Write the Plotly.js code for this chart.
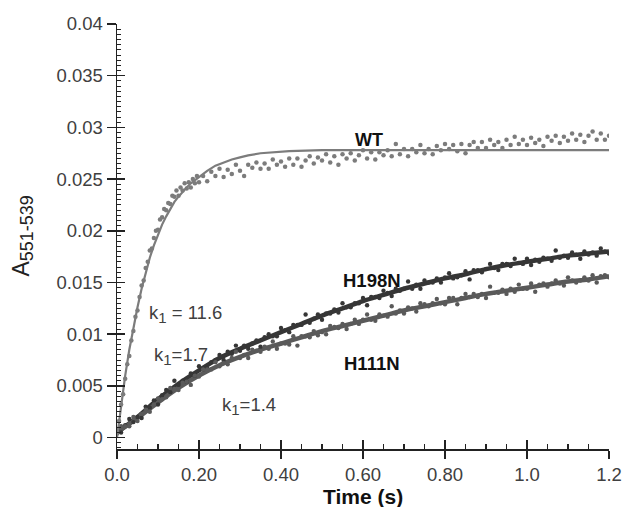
<!DOCTYPE html>
<html>
<head>
<meta charset="utf-8">
<script src="https://cdn.plot.ly/plotly-3.0.1.min.js"></script>
<style>html,body{margin:0;padding:0;background:#fff;}#chart{width:622px;height:507px;}</style>
</head>
<body>
<div id="chart"></div>
<script>
// ---------- data ----------
const time = [0,0.01,0.02,0.03,0.04,0.05,0.06,0.07,0.08,0.09,
  0.10,0.11,0.12,0.13,0.14,0.15,0.16,0.17,0.18,0.19,
  0.20,0.21,0.22,0.23,0.24,0.25,0.26,0.27,0.28,0.29,
  0.30,0.31,0.32,0.33,0.34,0.35,0.36,0.37,0.38,0.39,
  0.40,0.41,0.42,0.43,0.44,0.45,0.46,0.47,0.48,0.49,
  0.50,0.51,0.52,0.53,0.54,0.55,0.56,0.57,0.58,0.59,
  0.60,0.61,0.62,0.63,0.64,0.65,0.66,0.67,0.68,0.69,
  0.70,0.71,0.72,0.73,0.74,0.75,0.76,0.77,0.78,0.79,
  0.80,0.81,0.82,0.83,0.84,0.85,0.86,0.87,0.88,0.89,
  0.90,0.91,0.92,0.93,0.94,0.95,0.96,0.97,0.98,0.99,
  1.00,1.01,1.02,1.03,1.04,1.05,1.06,1.07,1.08,1.09,
  1.10,1.11,1.12,1.13,1.14,1.15,1.16,1.17,1.18,1.19,1.20];

const timeEarly = [0,0.005,0.01,0.015,0.02,0.025,0.03,0.035,0.04,0.045,
  0.05,0.055,0.06,0.065,0.07,0.075,0.08,0.085,0.09,0.095,
  0.10,0.105,0.11,0.115,0.12,0.125,0.13,0.135,0.14,0.145,
  0.15,0.155,0.16,0.165,0.17,0.175,0.18,0.185,0.19,0.195,0.20];

const timeWT = timeEarly.concat(time.slice(21));

const wtData = [0.0006,0.0016,0.0032,0.0042,0.0057,0.0071,0.0079,0.0094,0.0103,0.0117,
  0.0123,0.0136,0.0147,0.0152,0.0164,0.0170,0.0181,0.0183,0.0193,0.0200,
  0.0201,0.0211,0.0213,0.0221,0.0220,0.0227,0.0226,0.0234,0.0233,0.0239,
  0.0234,0.0242,0.0239,0.0246,0.0241,0.0247,0.0242,0.0250,0.0246,0.0253,0.0247,
  0.0253,0.0248,0.0257,0.0253,0.0260,0.0252,0.0259,0.0255,0.0264,0.0258,
  0.0253,0.0264,0.0261,0.0266,0.0260,0.0265,0.0260,0.0269,0.0264,0.0267,
  0.0262,0.0270,0.0264,0.0270,0.0262,0.0268,0.0272,0.0265,0.0271,0.0268,
  0.0274,0.0266,0.0272,0.0264,0.0274,0.0270,0.0275,0.0268,0.0273,0.0278,
  0.0270,0.0276,0.0269,0.0276,0.0273,0.0278,0.0272,0.0284,0.0274,0.0279,
  0.0272,0.0279,0.0276,0.0283,0.0275,0.0279,0.0274,0.0282,0.0278,0.0284,
  0.0279,0.0283,0.0277,0.0284,0.0275,0.0283,0.0286,0.0280,0.0286,0.0280,
  0.0288,0.0283,0.0286,0.0280,0.0288,0.0283,0.0291,0.0284,0.0288,0.0283,
  0.0290,0.0285,0.0288,0.0282,0.0291,0.0287,0.0292,0.0285,0.0291,0.0287,
  0.0294,0.0288,0.0293,0.0286,0.0292,0.0296,0.0288,0.0294,0.0288,0.0292];

const h198nData = [0.0007,0.0005,0.0012,0.0018,0.0015,0.0020,0.0019,0.0030,0.0029,0.0036,
  0.0032,0.0041,0.0046,0.0044,0.0055,0.0051,0.0055,0.0054,0.0062,0.0060,
  0.0069,0.0066,0.0067,0.0073,0.0075,0.0080,0.0075,0.0083,0.0081,0.0089,
  0.0084,0.0089,0.0086,0.0091,0.0094,0.0088,0.0097,0.0100,0.0098,0.0098,
  0.0106,0.0104,0.0102,0.0109,0.0109,0.0109,0.0119,0.0111,0.0115,0.0119,
  0.0114,0.0120,0.0120,0.0124,0.0121,0.0130,0.0126,0.0126,0.0130,0.0130,
  0.0135,0.0128,0.0136,0.0136,0.0135,0.0142,0.0140,0.0137,0.0144,0.0142,
  0.0144,0.0151,0.0144,0.0148,0.0144,0.0152,0.0150,0.0150,0.0154,0.0150,
  0.0155,0.0159,0.0154,0.0155,0.0157,0.0161,0.0153,0.0162,0.0162,0.0160,
  0.0163,0.0168,0.0164,0.0162,0.0168,0.0168,0.0166,0.0173,0.0169,0.0168,
  0.0173,0.0167,0.0172,0.0170,0.0174,0.0173,0.0171,0.0181,0.0174,0.0176,
  0.0174,0.0179,0.0177,0.0173,0.0180,0.0177,0.0179,0.0176,0.0183,0.0180,0.0178];

const h111nData = [0.0004,0.0011,0.0011,0.0011,0.0020,0.0016,0.0023,0.0027,0.0025,0.0032,
  0.0038,0.0037,0.0039,0.0048,0.0047,0.0046,0.0053,0.0054,0.0051,0.0060,
  0.0059,0.0066,0.0066,0.0066,0.0073,0.0069,0.0072,0.0071,0.0077,0.0083,
  0.0077,0.0080,0.0077,0.0085,0.0084,0.0083,0.0088,0.0086,0.0093,0.0086,
  0.0091,0.0091,0.0090,0.0098,0.0089,0.0098,0.0098,0.0097,0.0103,0.0099,
  0.0102,0.0100,0.0108,0.0107,0.0106,0.0110,0.0105,0.0110,0.0114,0.0110,
  0.0114,0.0119,0.0114,0.0113,0.0119,0.0118,0.0117,0.0127,0.0120,0.0123,
  0.0120,0.0126,0.0125,0.0122,0.0130,0.0129,0.0127,0.0130,0.0134,0.0130,
  0.0129,0.0135,0.0135,0.0129,0.0135,0.0139,0.0136,0.0139,0.0136,0.0139,
  0.0135,0.0146,0.0140,0.0140,0.0143,0.0139,0.0144,0.0141,0.0148,0.0144,
  0.0144,0.0149,0.0141,0.0148,0.0149,0.0146,0.0149,0.0152,0.0149,0.0147,
  0.0155,0.0152,0.0150,0.0152,0.0155,0.0152,0.0157,0.0150,0.0156,0.0157,0.0155];

// fitted curves
const fitTimeWT = [0,0.01,0.02,0.03,0.04,0.05,0.06,0.07,0.08,0.09,0.10,0.11,0.12,0.13,0.14,0.15,0.16,0.17,0.18,0.19,0.20,0.22,0.24,0.26,0.28,0.30,0.32,0.35,0.38,0.42,0.46,0.50,0.60,0.80,1.0,1.2];
const fitWT = [0,0.0032,0.0060,0.0085,0.0106,0.0126,0.0144,0.0160,0.0174,0.0186,0.0197,0.0206,0.0214,0.0221,0.0228,0.0233,0.0238,0.0242,0.0246,0.0249,0.0252,0.0258,0.0263,0.0266,0.0269,0.0271,0.0273,0.0275,0.0276,0.0277,0.02775,0.0278,0.0278,0.0278,0.0278,0.0278];
const fitTimeMut = [0,0.05,0.10,0.15,0.20,0.25,0.30,0.35,0.40,0.45,0.50,0.55,0.60,0.65,0.70,0.75,0.80,0.85,0.90,0.95,1.00,1.05,1.10,1.15,1.20];
const fitH198N = [0.0005,0.0020,0.0037,0.0052,0.0065,0.0077,0.0086,0.0094,0.0102,0.0110,0.0118,0.0125,0.0132,0.0138,0.0144,0.0149,0.0154,0.0158,0.0163,0.0167,0.0170,0.0173,0.0176,0.0178,0.0180];
const fitH111N = [0.0005,0.0019,0.0034,0.0048,0.0060,0.0070,0.0078,0.0085,0.0091,0.0097,0.0103,0.0108,0.0113,0.0118,0.0123,0.0127,0.0131,0.0135,0.0139,0.0142,0.0145,0.0148,0.0151,0.0153,0.0156];

const xTickVals = [0,0.2,0.4,0.6,0.8,1.0,1.2];
const xTickText = ['0.0','0.20','0.40','0.60','0.80','1.0','1.2'];
const yTickVals = [0,0.005,0.01,0.015,0.02,0.025,0.03,0.035,0.04];
const yTickText = ['0','0.005','0.01','0.015','0.02','0.025','0.03','0.035','0.04'];

// ---------- traces ----------
const cWT = '#7c7c7c', cH198 = '#363636', cH111 = '#5a5a5a';
const traces = [
  {x: fitTimeMut, y: fitH198N, mode:'lines', line:{color:cH198, width:4.5, shape:'spline'}, hoverinfo:'skip'},
  {x: fitTimeMut, y: fitH111N, mode:'lines', line:{color:cH111, width:4.5, shape:'spline'}, hoverinfo:'skip'},
  {x: time, y: h198nData, mode:'markers', marker:{color:cH198, size:4.4}},
  {x: time, y: h111nData, mode:'markers', marker:{color:cH111, size:4.4}},
  {x: timeWT, y: wtData, mode:'markers', marker:{color:cWT, size:4.5}},
  {x: fitTimeWT, y: fitWT, mode:'lines', line:{color:cWT, width:2.2}, xaxis:'x2', yaxis:'y2', hoverinfo:'skip'}
];

const axisCol = '#222';
const tickFont = {family:'Liberation Sans, Arial, sans-serif', size:18.5, color:'#404040'};
const layout = {
  width:622, height:507,
  margin:{l:117, r:13, t:24, b:58},
  paper_bgcolor:'#fff', plot_bgcolor:'#fff',
  showlegend:false,
  font:{family:'Liberation Sans, Arial, sans-serif', size:18, color:'#404040'},
  xaxis:{range:[0,1.2], tickmode:'array', tickvals:xTickVals, ticktext:xTickText,
    ticks:'outside', ticklen:8, tickwidth:1.5, tickcolor:axisCol,
    showline:true, linewidth:1.5, linecolor:axisCol, showgrid:false, zeroline:false,
    tickfont:tickFont, automargin:false},
  xaxis2:{overlaying:'x', anchor:'y', range:[0,1.2], tickmode:'linear', tick0:0, dtick:0.2,
    ticks:'inside', ticklen:9, tickwidth:1.5, tickcolor:axisCol, showticklabels:false,
    showline:false, showgrid:false, zeroline:false,
    minor:{tick0:0, dtick:0.05, ticks:'inside', ticklen:5, tickwidth:1.2, tickcolor:axisCol, showgrid:false}},
  yaxis:{range:[-0.0011,0.04], tickmode:'array', tickvals:yTickVals, ticktext:yTickText,
    ticks:'outside', ticklen:9, tickwidth:1.5, tickcolor:axisCol,
    showline:true, linewidth:1.5, linecolor:axisCol, showgrid:false, zeroline:false,
    tickfont:tickFont, automargin:false},
  yaxis2:{overlaying:'y', anchor:'x', range:[-0.0011,0.04], tickmode:'linear', tick0:0, dtick:0.005,
    ticks:'inside', ticklen:8, tickwidth:1.5, tickcolor:axisCol, showticklabels:false,
    showline:false, showgrid:false, zeroline:false,
    minor:{tick0:0, dtick:0.0005, ticks:'inside', ticklen:4, tickwidth:1, tickcolor:axisCol, showgrid:false}},
  annotations:[
    {xref:'paper', yref:'paper', x:0.5, y:-0.112, xanchor:'center', yanchor:'middle', showarrow:false,
      text:'<b>Time (s)</b>', font:{size:21, color:'#111'}},
    {xref:'paper', yref:'paper', x:-0.193, y:0.5, xanchor:'center', yanchor:'middle', showarrow:false, textangle:-90,
      text:'A<sub><span style="font-size:18px">551-539</span></sub>', font:{size:23, color:'#222'}},
    {x:0.6146, y:0.02879, showarrow:false, text:'<b>WT</b>', font:{size:18, color:'#111'}},
    {x:0.621, y:0.01515, showarrow:false, text:'<b>H198N</b>', font:{size:18.5, color:'#111'}},
    {x:0.621, y:0.00713, showarrow:false, text:'<b>H111N</b>', font:{size:18.5, color:'#111'}},
    {x:0.168, y:0.0120, showarrow:false, text:'k<sub><span style="font-size:15px">1</span></sub> = 11.6', font:{size:18.5, color:'#404040'}},
    {x:0.156, y:0.0079, showarrow:false, text:'k<sub><span style="font-size:15px">1</span></sub>=1.7', font:{size:18.5, color:'#404040'}},
    {x:0.322, y:0.0031, showarrow:false, text:'k<sub><span style="font-size:15px">1</span></sub>=1.4', font:{size:18.5, color:'#404040'}}
  ]
};

Plotly.newPlot('chart', traces, layout, {staticPlot:true, displayModeBar:false});
</script>
</body>
</html>
